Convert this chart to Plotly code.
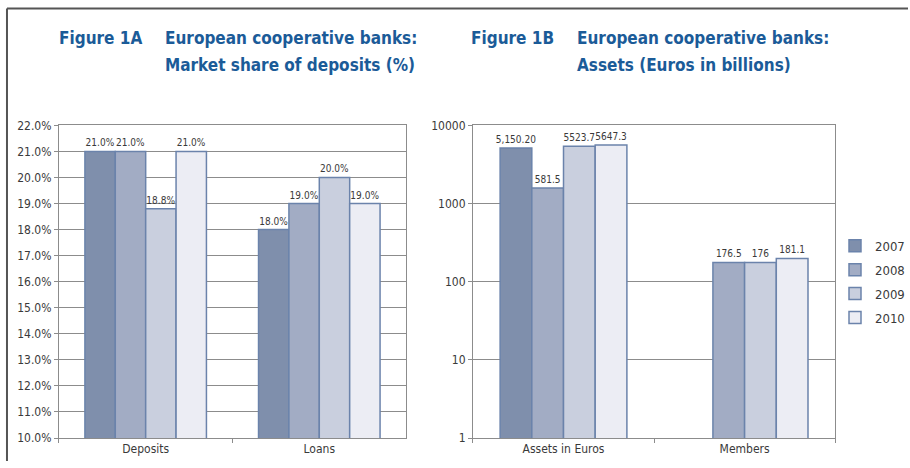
import plotly.graph_objects as go

W, H = 910, 468

years = ["2007", "2008", "2009", "2010"]
colors = ["#7f8fac", "#a2acc4", "#c9cfde", "#ecedf4"]
outline = "#6b83ab"

# Figure 1A
cat_a = ["Deposits", "Loans"]
share_2007 = [21.0, 18.0]
share_2008 = [21.0, 19.0]
share_2009 = [18.8, 20.0]
share_2010 = [21.0, 19.0]
shares = [share_2007, share_2008, share_2009, share_2010]

# Figure 1B
cat_b = ["Assets in Euros", "Members"]
assets_2007 = [5150.2, None]
assets_2008 = [1581.5, 176.5]
assets_2009 = [5387.0, 176.0]
assets_2010 = [5590.0, 198.0]
assets = [assets_2007, assets_2008, assets_2009, assets_2010]
labels_2007 = ["5,150.20", ""]
labels_2008 = ["581.5", "176.5"]
labels_2009 = ["5523.7", "176"]
labels_2010 = ["5647.3", "181.1"]
labels_b = [labels_2007, labels_2008, labels_2009, labels_2010]

yticks_a = [10, 11, 12, 13, 14, 15, 16, 17, 18, 19, 20, 21, 22]
yticktext_a = ["10.0%", "11.0%", "12.0%", "13.0%", "14.0%", "15.0%", "16.0%",
               "17.0%", "18.0%", "19.0%", "20.0%", "21.0%", "22.0%"]
yticks_b = [1, 10, 100, 1000, 10000]
yticktext_b = ["1", "10", "100", "1000", "10000"]

FONT = "DejaVu Sans Condensed, Liberation Sans Narrow, Roboto, sans-serif"
TXT = "#3a3a3a"
GRID = "#8c8c8c"
BLUE = "#1b5b98"

fig = go.Figure()

for i, y in enumerate(years):
    fig.add_trace(go.Bar(
        x=cat_a, y=shares[i], name=y, xaxis="x", yaxis="y",
        marker=dict(color=colors[i], line=dict(color=outline, width=1.5)),
        text=[f"{v:.1f}%" for v in shares[i]], textposition="outside",
        constraintext="none",
        textfont=dict(family=FONT, size=10, color=TXT),
        cliponaxis=False, showlegend=False, legendgroup=y,
    ))

for i, y in enumerate(years):
    fig.add_trace(go.Bar(
        x=cat_b, y=assets[i], name=y, xaxis="x2", yaxis="y2",
        marker=dict(color=colors[i], line=dict(color=outline, width=1.5)),
        text=labels_b[i], textposition="outside", constraintext="none",
        textfont=dict(family=FONT, size=10, color=TXT),
        cliponaxis=False, showlegend=True, legendgroup=y,
    ))

ydom = [1 - 444.3 / H, 1 - 122 / H]
axis_common = dict(
    showline=True, linecolor=GRID, linewidth=1, mirror=True,
    tickfont=dict(family=FONT, size=12, color=TXT),
    ticks="outside", ticklen=4, tickcolor=GRID,
)

fig.update_layout(
    width=W, height=H,
    margin=dict(l=0, r=0, t=0, b=0),
    paper_bgcolor="white", plot_bgcolor="white",
    barmode="group", bargap=0.3, bargroupgap=0,
    font=dict(family=FONT, color=TXT),
    xaxis=dict(domain=[59 / W, 407 / W], anchor="y", tickson="boundaries",
               showgrid=False, **axis_common),
    yaxis=dict(domain=ydom, anchor="x", range=[10, 22], tickvals=yticks_a,
               ticktext=yticktext_a, showgrid=True,
               gridcolor=GRID, gridwidth=1, zeroline=False, **axis_common),
    xaxis2=dict(domain=[474 / W, 837 / W], anchor="y2", tickson="boundaries",
                showgrid=False, **axis_common),
    yaxis2=dict(domain=ydom, anchor="x2", type="log", range=[0, 4],
                tickvals=yticks_b, ticktext=yticktext_b, showgrid=True,
                gridcolor=GRID, gridwidth=1, zeroline=False, **axis_common),
    legend=dict(x=837 / W, y=1 - 230.7 / H, xanchor="left", yanchor="top",
                font=dict(family=FONT, size=13, color=TXT),
                tracegroupgap=4, bgcolor="rgba(0,0,0,0)"),
    shapes=[
        dict(type="line", xref="paper", yref="paper",
             x0=7 / W, x1=1, y0=1 - 1.5 / H, y1=1 - 1.5 / H,
             line=dict(color="#555555", width=2)),
        dict(type="line", xref="paper", yref="paper",
             x0=7 / W, x1=7 / W, y0=0, y1=1 - 1.5 / H,
             line=dict(color="#555555", width=2)),
    ],
)

def title(x_px, y_px, text):
    fig.add_annotation(x=x_px / W, y=1 - y_px / H, xref="paper", yref="paper",
                       text=text, showarrow=False, xanchor="left", yanchor="middle",
                       font=dict(family=FONT, size=17, color=BLUE))

title(57, 31.5, "<b>Figure 1A</b>")
title(163, 31.5, "<b>European cooperative banks:</b>")
title(163, 60, "<b>Market share of deposits (%)</b>")
title(470, 31.5, "<b>Figure 1B</b>")
title(576, 31.5, "<b>European cooperative banks:</b>")
title(576, 60, "<b>Assets (Euros in billions)</b>")

fig.write_html("out.html", config={"displayModeBar": False},
               post_script="document.body.style.margin='0';")
